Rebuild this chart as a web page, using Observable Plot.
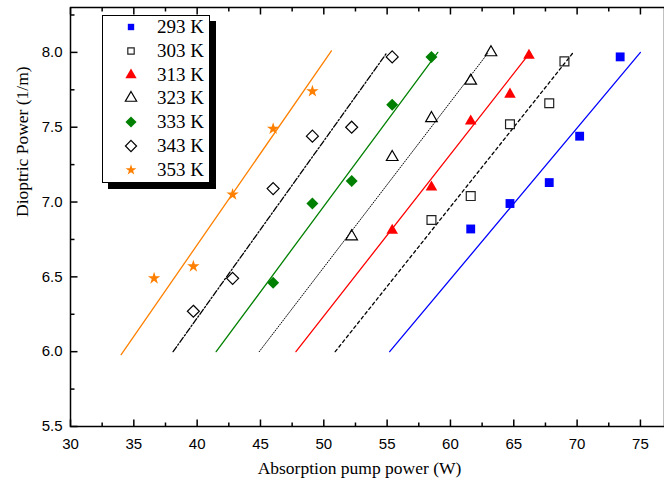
<!DOCTYPE html>
<html><head><meta charset="utf-8">
<script src="https://cdn.jsdelivr.net/npm/d3@7"></script>
<script src="https://cdn.jsdelivr.net/npm/@observablehq/plot@0.6"></script>
<style>
body{margin:0;background:#fff}
#wrap{position:relative;width:664px;height:486px;overflow:hidden}
#legend{position:absolute;left:102px;top:15px;width:106px;height:166px;border:1px solid #000;background:#fff;box-shadow:6px 6px 0 #000;font-family:"Liberation Serif","Times New Roman",serif;font-size:19px;color:#000}
.row{position:absolute;left:0;width:106px;height:24px}
.row svg{position:absolute;left:16px;top:0}
.row span{position:absolute;left:54px;top:0;line-height:24px;white-space:nowrap}
</style>
</head><body>
<div id="wrap"><div id="legend"></div></div>
<script>
const seriesNames = ["293 K","303 K","313 K","323 K","333 K","343 K","353 K"];
const x293 = [61.6, 64.7, 67.8, 70.2, 73.4];
const y293 = [6.82, 6.99, 7.13, 7.44, 7.97];
const x303 = [58.5, 61.6, 64.7, 67.8, 69.0];
const y303 = [6.88, 7.04, 7.52, 7.66, 7.94];
const x313 = [55.4, 58.5, 61.6, 64.7, 66.2];
const y313 = [6.81, 7.10, 7.54, 7.72, 7.98];
const x323 = [52.2, 55.4, 58.5, 61.6, 63.2];
const y323 = [6.77, 7.30, 7.56, 7.81, 8.00];
const x333 = [46.0, 49.1, 52.2, 55.4, 58.5];
const y333 = [6.46, 6.99, 7.14, 7.65, 7.97];
const x343 = [39.7, 42.8, 46.0, 49.1, 52.2, 55.4];
const y343 = [6.27, 6.49, 7.09, 7.44, 7.50, 7.97];
const x353 = [36.6, 39.7, 42.8, 46.0, 49.1];
const y353 = [6.49, 6.57, 7.05, 7.49, 7.74];
// fitted lines (endpoints)
const lineStartX = [55.2, 50.9, 47.8, 44.9, 41.5, 38.1, 34.0];
const lineEndX   = [75.0, 69.7, 66.3, 63.0, 59.0, 55.0, 50.6];
const lineStartY = [6.0, 6.0, 6.0, 6.0, 6.0, 6.0, 5.98];
const lineEndY   = [8.0, 8.0, 8.0, 8.0, 8.0, 8.0, 8.01];
const xTicks = [30, 35, 40, 45, 50, 55, 60, 65, 70, 75];
const xMinorTicks = [32.5, 37.5, 42.5, 47.5, 52.5, 57.5, 62.5, 67.5, 72.5];
const yTicks = [5.5, 6.0, 6.5, 7.0, 7.5, 8.0];
const yMinorTicks = [5.75, 6.25, 6.75, 7.25, 7.75, 8.25];
const xTitle = "Absorption pump power (W)";
const yTitle = "Dioptric Power (1/m)";

const xs = [x293, x303, x313, x323, x333, x343, x353];
const ys = [y293, y303, y313, y323, y333, y343, y353];

const styles = [
  {color:"#0000ff", symbol:"square",   filled:true,  r:5.0, dash:null, lw:1.3},
  {color:"#222",    symbol:"square",   filled:false, r:5.0, dash:"3,3", lw:1.3},
  {color:"#ff0000", symbol:"triangle", filled:true,  r:4.3, dash:null, lw:1.3},
  {color:"#000",    symbol:"triangle", filled:false, r:4.3, dash:"1,1.6", lw:1.0},
  {color:"#008000", symbol:"diamond2", filled:true,  r:5.4, dash:null, lw:1.3},
  {color:"#000",    symbol:"diamond2", filled:false, r:5.4, dash:"6,2,1.5,2", lw:1.3},
  {color:"#ff8000", symbol:"star",     filled:true,  r:3.9, dash:null, lw:1.3}
];

const lineMarks = seriesNames.map((n, i) => Plot.line(
  [{x: lineStartX[i], y: lineStartY[i]}, {x: lineEndX[i], y: lineEndY[i]}],
  {x:"x", y:"y", stroke: styles[i].color === "#222" ? "#000" : styles[i].color, strokeWidth: styles[i].lw,
   strokeDasharray: styles[i].dash || undefined}));

const dotMarks = seriesNames.map((n, i) => Plot.dot(
  xs[i].map((x, j) => ({x, y: ys[i][j]})),
  {x:"x", y:"y", symbol: styles[i].symbol, r: styles[i].r,
   fill: styles[i].filled ? styles[i].color : "none",
   stroke: styles[i].filled ? "none" : styles[i].color,
   strokeWidth: 1.2}));

// straight tick shape for inward-pointing ticks
const tickShape = {draw(context, l) { context.moveTo(0, 0); context.lineTo(0, -l); }};
const tv = (data, opts) => Plot.vector(data, {shape: tickShape, anchor: "start", stroke: "#000", strokeWidth: 1.5, strokeLinecap: "butt", ...opts});

const chart = Plot.plot({
  width: 664, height: 486,
  marginLeft: 70, marginRight: 0, marginTop: 7, marginBottom: 60,
  x: {domain: [30, 76.9]},
  y: {domain: [5.5, 8.3]},
  style: {fontFamily: "'Liberation Sans', Arial, sans-serif", fontSize: "15px", color: "#000", background: "#fff", overflow: "visible"},
  marks: [
    ...lineMarks,
    ...dotMarks,
    Plot.frame({stroke: "#000", strokeWidth: 1.5}),
    tv(xTicks, {x: d => d, frameAnchor: "bottom", rotate: 0, length: 7}),
    tv(xMinorTicks, {x: d => d, frameAnchor: "bottom", rotate: 0, length: 4}),
    tv(xTicks, {x: d => d, frameAnchor: "top", rotate: 180, length: 7}),
    tv(xMinorTicks, {x: d => d, frameAnchor: "top", rotate: 180, length: 4}),
    tv(yTicks, {y: d => d, frameAnchor: "left", rotate: 90, length: 7}),
    tv(yMinorTicks, {y: d => d, frameAnchor: "left", rotate: 90, length: 4}),
    Plot.axisX(xTicks, {anchor: "bottom", tickSize: 0, tickPadding: 12, fill: "#000", label: null}),
    Plot.axisY(yTicks, {anchor: "left", tickSize: 0, tickPadding: 8, tickFormat: d => d.toFixed(1), fill: "#000", label: null}),
    Plot.text([xTitle], {frameAnchor: "bottom", dy: 47, dx: -8, text: d => d, fontFamily: "'Liberation Serif', 'Times New Roman', serif", fontSize: 17.5, fill: "#000"}),
    Plot.text([yTitle], {frameAnchor: "left", dx: -48, rotate: -90, text: d => d, fontFamily: "'Liberation Serif', 'Times New Roman', serif", fontSize: 17.5, fill: "#000"})
  ]
});
const wrap = document.getElementById("wrap");
wrap.insertBefore(chart, wrap.firstChild);

// legend
const legend = document.getElementById("legend");
const legendSize = [{r:3.6},{r:3.6},{r:4.2},{r:4.2},{r:5.0},{r:5.0},{r:3.4}];
const symMap = {square: d3.symbolSquare, triangle: d3.symbolTriangle, diamond2: d3.symbolDiamond2, star: d3.symbolStar};
seriesNames.forEach((n, i) => {
  const s = styles[i];
  const row = document.createElement("div");
  row.className = "row";
  row.style.top = (-1 + 23.8 * i) + "px";
  const r = legendSize[i].r;
  const path = d3.symbol(symMap[s.symbol], Math.PI * r * r)();
  row.innerHTML = `<svg width="24" height="24" viewBox="-12 -12 24 24"><path d="${path}" fill="${s.filled ? s.color : "none"}" stroke="${s.filled ? "none" : s.color}" stroke-width="1.2"/></svg><span>${n}</span>`;
  legend.appendChild(row);
});
</script>
</body></html>
